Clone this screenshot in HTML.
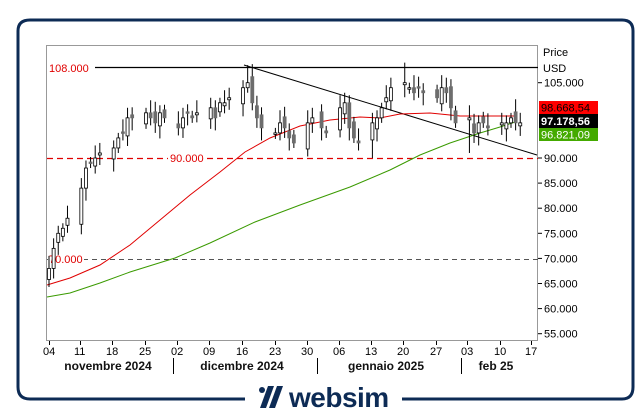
<!DOCTYPE html>
<html><head><meta charset="utf-8"><style>
html,body{margin:0;padding:0;background:#fff;width:644px;height:418px;overflow:hidden}
svg{display:block}
text{font-family:"Liberation Sans",sans-serif}
</style></head><body>
<svg id="s" width="644" height="418" viewBox="0 0 644 418" xmlns="http://www.w3.org/2000/svg">
<path d="M245,399 H30 Q18,399 18,387 V31 Q18,20 30,20 H622 Q633,20 633,31 V387 Q633,399 622,399 H402" fill="none" stroke="#0d2b55" stroke-width="3"/>
<rect x="46.5" y="45.5" width="491" height="295" fill="#fff" stroke="#999" stroke-width="1"/>
<g id="grid"></g>
<line x1="95" y1="67.5" x2="538" y2="67.5" stroke="#000" stroke-width="1.2"/>
<text x="49" y="72" font-size="11" fill="#e00000">108.000</text>
<line x1="47" y1="158.5" x2="538" y2="158.5" stroke="#e00000" stroke-width="1.2" stroke-dasharray="6,4"/>
<rect x="168" y="152" width="38" height="12" fill="#fff"/>
<text x="170" y="162" font-size="11" fill="#e00000">90.000</text>
<line x1="47" y1="259.5" x2="538" y2="259.5" stroke="#555" stroke-width="1" stroke-dasharray="5,4"/>
<rect x="48" y="253" width="36" height="12" fill="#fff"/>
<text x="49" y="263" font-size="11" fill="#e00000">70.000</text>
<line x1="244" y1="65" x2="537" y2="155" stroke="#000" stroke-width="1"/>
<polyline fill="none" stroke="#e00000" stroke-width="1" points="47,285 70,278 100,265 130,245 160,220 190,195 220,172 245,152 270,138 300,126 330,120 360,117 380,118 400,114 430,113 460,116 490,116 515,116"/>
<polyline fill="none" stroke="#3a9a00" stroke-width="1" points="47,297 70,293 100,283 130,272 175,258 210,243 255,222 300,205 350,187 390,170 420,155 450,143 480,133 500,127 515,122"/>
<g id="c"></g>
<text x="543" y="56" font-size="11" fill="#000">Price</text>
<text x="543" y="72" font-size="11" fill="#000">USD</text>
<g id="yl" font-size="11" fill="#000"></g>
<rect x="539" y="101" width="59" height="13" fill="#ff0000"/>
<text x="541" y="111.5" font-size="11" fill="#000">98.668,54</text>
<rect x="539" y="114" width="59" height="14" fill="#000"/>
<text x="541" y="125" font-size="11" fill="#fff" font-weight="bold">97.178,56</text>
<rect x="539" y="128" width="59" height="13" fill="#44aa00"/>
<text x="541" y="138.5" font-size="11" fill="#fff">96.821,09</text>
<g id="xl" font-size="11" fill="#000"></g>
<g font-size="12" font-weight="bold" fill="#111" text-anchor="middle">
<text x="108" y="370">novembre 2024</text>
<text x="242" y="370">dicembre 2024</text>
<text x="386" y="370">gennaio 2025</text>
<text x="496" y="370">feb 25</text>
</g>
<g stroke="#000" stroke-width="1">
<line x1="173.5" y1="358" x2="173.5" y2="374"/>
<line x1="317.5" y1="358" x2="317.5" y2="374"/>
<line x1="461.5" y1="358" x2="461.5" y2="374"/>
</g>
<g fill="#0d2b55">
<circle cx="262" cy="390" r="3"/>
<polygon points="268,386 274,386 266,408 260,408"/>
<polygon points="277,386 283,386 275,408 269,408"/>
<text x="289" y="407" font-size="28" font-weight="bold" style="letter-spacing:-0.5px">websim</text>
</g>
</svg>
<script>
var ns="http://www.w3.org/2000/svg";
function el(p,t,a,tx){var e=document.createElementNS(ns,t);for(var k in a)e.setAttribute(k,a[k]);if(tx)e.textContent=tx;document.getElementById(p).appendChild(e);}
function Y(v){return 158-(v-90)*5.02;}
[105,100,95,90,85,80,75,70,65,60,55].forEach(function(v){var y=Y(v);if(v==100||v==95)return;
el("yl","line",{x1:538,y1:y,x2:542,y2:y,stroke:"#000"});el("yl","text",{x:544,y:y+4},v+".000");});
var xs=[["04",49],["11",80],["18",112],["25",145],["02",177],["09",209],["16",242],["23",275],["30",307],["06",339],["13",371],["20",403],["27",436],["03",467],["10",500],["17",531]];
xs.forEach(function(a){el("xl","line",{x1:a[1]+0.5,y1:341,x2:a[1]+0.5,y2:345,stroke:"#000"});el("xl","text",{x:a[1]-6,y:355},a[0]);});
var closes={0:68,1:72,2:75,3:76,4:78,7:84,8:88,9:89,10:90,11:91,14:92,15:94,16:95,17:98,18:98,21:99,22:98,23:97,24:99,25:98,28:96,29:98,30:99,31:98,32:99,35:100,36:98,37:101,38:101,39:102,42:104,43:105,44:101,45:98,46:96,49:95,50:97,51:96,52:94,53:93,56:97,57:98,59:96,60:95,63:100,64:101,65:96,66:94,67:93,70:97,71:98,72:100,73:102,74:104,77:105,78:104,79:103,80:104,81:103,84:102,85:104,86:103,87:100,88:97,91:98,92:95,93:97,94:97,95:96,98:97,99:97,100:98,101:97,102:97};
var prev=67,i=0;
for(var d=0;d<=102;d++){if(!(d in closes))continue;var c=closes[d],o=prev+((i*7)%5-2)*0.6;i++;
var hi=Math.max(o,c)+1+((i*3)%4)*0.5,lo=Math.min(o,c)-1-((i*5)%4)*0.5;if(d==43)hi=108.5;if(d==77)hi=109;if(d==91)lo=91;if(d==70)lo=90;
var x=49+d*4.62;el("c","line",{x1:x,y1:Y(hi),x2:x,y2:Y(lo),stroke:"#000","stroke-width":1});
var t=Y(Math.max(o,c)),b=Y(Math.min(o,c));if(b-t<1.5)b=t+1.5;
el("c","rect",{x:x-1.5,y:t,width:3,height:b-t,fill:c>=o?"#fff":"#6d6d6d",stroke:c>=o?"#000":"#6d6d6d","stroke-width":0.8});prev=c;}
</script>
</body></html>
